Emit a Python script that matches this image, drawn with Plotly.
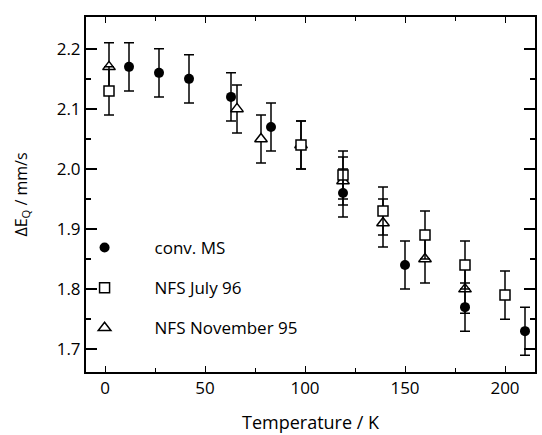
import plotly.graph_objects as go

# Quadrupole splitting vs temperature
ms_T = [12, 27, 42, 63, 83, 119, 150, 180, 210]
ms_dEQ = [2.17, 2.16, 2.15, 2.12, 2.07, 1.96, 1.84, 1.77, 1.73]
ms_err = [0.04] * len(ms_T)

jul96_T = [2, 98, 119, 139, 160, 180, 200]
jul96_dEQ = [2.13, 2.04, 1.99, 1.93, 1.89, 1.84, 1.79]
jul96_err = [0.04] * len(jul96_T)

nov95_T = [2, 66, 78, 98, 119, 139, 160, 180]
nov95_dEQ = [2.17, 2.10, 2.05, 2.04, 1.98, 1.91, 1.85, 1.80]
nov95_err = [0.04] * len(nov95_T)

series = [
    ("NFS November 95", nov95_T, nov95_dEQ, nov95_err,
     dict(symbol="triangle-up", size=11, color="white", line=dict(width=1.5, color="black"))),
    ("NFS July 96", jul96_T, jul96_dEQ, jul96_err,
     dict(symbol="square", size=10, color="white", line=dict(width=1.5, color="black"))),
    ("conv. MS", ms_T, ms_dEQ, ms_err,
     dict(symbol="circle", size=10, color="black", line=dict(width=0))),
]

FONT = "Open Sans, DejaVu Sans, sans-serif"

fig = go.Figure()
for name, xs, ys, es, mk in series:
    fig.add_trace(go.Scatter(
        x=xs, y=ys, mode="markers", marker=mk, showlegend=False, name=name,
        error_y=dict(type="data", array=es, visible=True, color="black",
                     thickness=1.5, width=5),
    ))

# legend entries (markers only)
legend_order = ["conv. MS", "NFS July 96", "NFS November 95"]
for i, nm in enumerate(legend_order):
    mk = [s[4] for s in series if s[0] == nm][0]
    fig.add_trace(go.Scatter(x=[None], y=[None], mode="markers", marker=mk,
                             name=nm, legendgroup=f"g{i}", showlegend=True))

fig.update_layout(
    width=542, height=435,
    margin=dict(l=86, r=5, t=17, b=60),
    paper_bgcolor="white", plot_bgcolor="white",
    font=dict(family=FONT, size=17, color="black"),
    showlegend=True,
    legend=dict(x=-0.07, y=0.40, xanchor="left", yanchor="top",
                bgcolor="rgba(0,0,0,0)", borderwidth=0,
                font=dict(family=FONT, size=17, color="black"),
                itemwidth=90, traceorder="grouped", tracegroupgap=15),
    xaxis=dict(
        range=[-9.5, 215], showgrid=False, zeroline=False,
        showline=True, linecolor="black", linewidth=2, mirror="allticks",
        ticks="inside", ticklen=6, tickwidth=1.2, tickcolor="black",
        tickmode="array", tickvals=[0, 50, 100, 150, 200],
        ticktext=["0", "50", "100", "150", "200"],
        minor=dict(tickmode="array", tickvals=[25, 75, 125, 175], ticks="inside",
                   ticklen=4, tickwidth=1.2, tickcolor="black", showgrid=False),
        title=dict(text="Temperature / K", standoff=18,
                   font=dict(family=FONT, size=18)),
        tickfont=dict(family=FONT, size=17),
    ),
    yaxis=dict(
        range=[1.662, 2.253], showgrid=False, zeroline=False,
        showline=True, linecolor="black", linewidth=2, mirror="allticks",
        ticks="inside", ticklen=11, tickwidth=1.5, tickcolor="black",
        tickmode="array", tickvals=[1.7, 1.8, 1.9, 2.0, 2.1, 2.2],
        ticktext=["1.7", "1.8", "1.9", "2.0", "2.1", "2.2"],
        minor=dict(tickmode="array", tickvals=[1.75, 1.85, 1.95, 2.05, 2.15],
                   ticks="inside", ticklen=5, tickwidth=1.5, tickcolor="black",
                   showgrid=False),
        title=dict(text="ΔE<sub>Q</sub> / mm/s", standoff=25,
                   font=dict(family=FONT, size=16)),
        tickfont=dict(family=FONT, size=17),
    ),
)

fig.write_html("out.html")
